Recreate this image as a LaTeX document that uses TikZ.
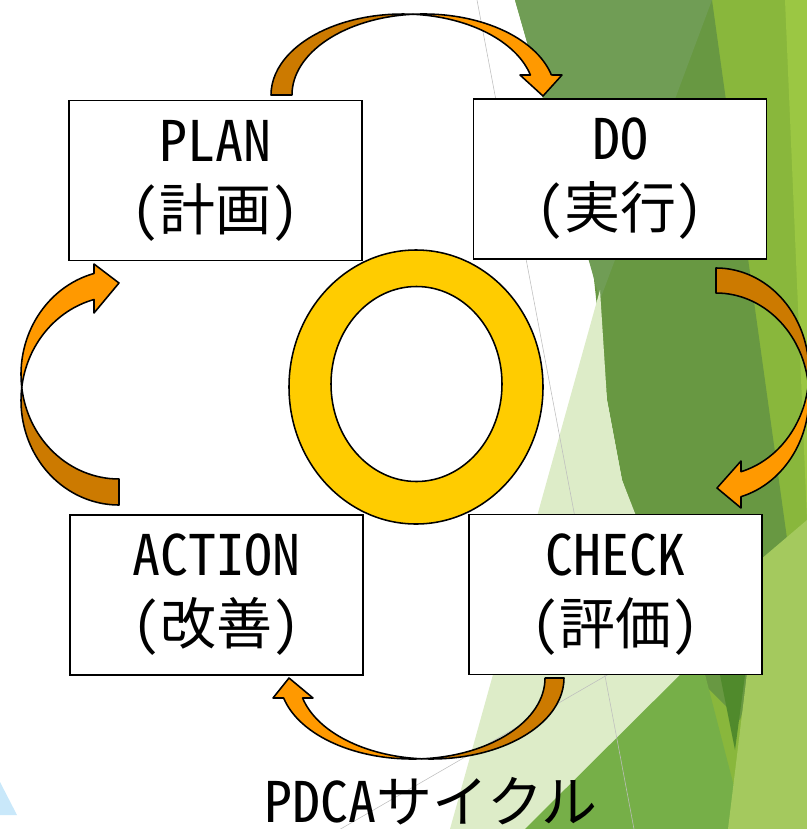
\documentclass[tikz,border=0pt]{standalone}
\usepackage{fontspec}
\newfontfamily\jpfont[RawFeature=+hwid]{Noto Sans CJK JP}
\usetikzlibrary{calc}
\definecolor{arrowlight}{RGB}{255,153,0}
\definecolor{arrowdark}{RGB}{204,122,0}
\definecolor{ringgold}{RGB}{255,204,0}
\definecolor{leafolive}{RGB}{112,157,85}
\definecolor{leafdark}{RGB}{104,152,66}
\definecolor{leafmid}{RGB}{118,175,72}
\definecolor{leafdeep}{RGB}{80,138,44}
\definecolor{leafyellow}{RGB}{137,183,60}
\definecolor{leafbright}{RGB}{155,199,67}
\definecolor{leaflight}{RGB}{164,201,94}
\definecolor{leafpale}{RGB}{221,236,200}
\definecolor{skyblue}{RGB}{201,232,250}
\definecolor{bgline}{RGB}{190,190,190}

\begin{document}
\begin{tikzpicture}[x=0.025cm,y=-0.025cm,
    stage/.style={draw,line width=1.2pt,fill=white,minimum width=7.325cm,minimum height=4cm,
      align=center,font=\jpfont\fontsize{39.8}{49}\selectfont},
    band/.style={draw,line width=1.1pt,line join=round}]
    \useasboundingbox (0,0) rectangle (807,829);
    \clip (0,0) rectangle (807,829);
    % background facets
    \fill[leafyellow] (712,0) -- (807,0) -- (807,829) -- (700,829) -- cycle;
    \fill[leafbright] (785,0) -- (807,0) -- (807,520) -- cycle;
    \fill[leafdark] (515,0) -- (712,0) -- (790,560) -- (740,720) -- (690,670) -- (622,480) -- (607,400) -- (593,270) -- cycle;
    \fill[leafolive] (515,0) -- (712,0) -- (600,300) -- cycle;
    \fill[leafpale] (600,290) -- (607,400) -- (622,480) -- (700,680) -- (560,829) -- (450,829) -- cycle;
    \fill[leafmid] (525,829) -- (700,655) -- (745,829) -- cycle;
    \fill[leafdeep] (705,600) -- (755,600) -- (735,750) -- cycle;
    \fill[leaflight] (760,560) -- (807,520) -- (807,829) -- (728,829) -- (745,690) -- cycle;
    \fill[skyblue] (0,782) -- (17,815) -- (0,815) -- cycle;
    \draw[bgline] (477,0) -- (634,829);
    \draw[bgline] (325,838) -- (640,656);
    % the four stages
    \foreach \nm/\px/\py/\lbl/\jp in {plan/215.5/180.5/PLAN/計画, do/620/179/DO/実行,
        check/615.5/594.5/CHECK/評価, action/216.5/595/ACTION/改善} {
      \node[stage] (\nm) at (\px,\py) {\lbl\\(\jp)};
    }
    % ring
    \path[fill=ringgold,draw=black,line width=1.1pt,even odd rule]
      (416,387) ellipse[x radius=127,y radius=137]
      (416.5,384) ellipse[x radius=85.5,y radius=97.5];
    % plan -> do
    \path[band,fill=arrowdark] (271,95)
      arc[start angle=180,end angle=274.46,x radius=131.75,y radius=81]
      arc[start angle=265.32,end angle=180,x radius=131.75,y radius=81] -- cycle;
    \path[band,fill=arrowlight] (413,14.25)
      arc[start angle=265.32,end angle=345.7,x radius=131.75,y radius=81]
      -- (562,75) -- (543,96) -- (520,75) -- (530.4,75)
      arc[start angle=345.7,end angle=274.46,x radius=131.75,y radius=81] -- cycle;
    % do -> check
    \path[band,fill=arrowdark] (716,268)
      arc[start angle=-90,end angle=6.92,x radius=93,y radius=103.75]
      arc[start angle=-6.92,end angle=-90,x radius=93,y radius=103.75] -- cycle;
    \path[band,fill=arrowlight] (808.3,384.25)
      arc[start angle=-6.92,end angle=74.41,x radius=93,y radius=103.75]
      -- (741,508) -- (717,488) -- (741,461) -- (741,471.7)
      arc[start angle=74.41,end angle=6.92,x radius=93,y radius=103.75] -- cycle;
    % check -> action
    \path[band,fill=arrowdark] (564,678)
      arc[start angle=0,end angle=94.10,x radius=132.75,y radius=81]
      arc[start angle=85.90,end angle=0,x radius=132.75,y radius=81] -- cycle;
    \path[band,fill=arrowlight] (421.76,758.8)
      arc[start angle=85.90,end angle=165.71,x radius=132.75,y radius=81]
      -- (273,698) -- (289,678) -- (313,698) -- (302.6,698)
      arc[start angle=165.71,end angle=94.10,x radius=132.75,y radius=81] -- cycle;
    % action -> plan
    \path[band,fill=arrowdark] (119,505)
      arc[start angle=90,end angle=187.15,x radius=98,y radius=104.5]
      arc[start angle=172.85,end angle=90,x radius=98,y radius=104.5] -- cycle;
    \path[band,fill=arrowlight] (21.76,387.5)
      arc[start angle=172.85,end angle=255.22,x radius=98,y radius=104.5]
      -- (94,264) -- (119,283) -- (94,313) -- (94,299.5)
      arc[start angle=255.22,end angle=187.15,x radius=98,y radius=104.5] -- cycle;
    % title
    \node[anchor=base,inner sep=0pt,font=\jpfont\fontsize{39.8}{49}\selectfont] (title) at (431,822) {PDCAサイクル};
\end{tikzpicture}
\end{document}
